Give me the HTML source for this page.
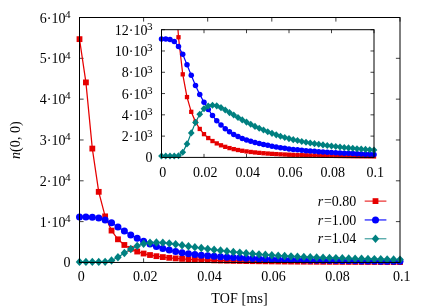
<!DOCTYPE html>
<html><head><meta charset="utf-8"><title>TOF plot</title>
<style>html,body{margin:0;padding:0;background:#fff;overflow:hidden}svg{display:block}svg{will-change:transform}</style></head>
<body>
<svg width="425" height="306" viewBox="0 0 425 306" font-family="'Liberation Serif', serif" font-size="14" fill="#000">
<rect width="425" height="306" fill="#fff"/>
<defs><clipPath id="ic"><rect x="156.50" y="29.70" width="222.50" height="132.70"/></clipPath></defs>
<g class="txt">
<text x="70.60" y="266.75" text-anchor="end">0</text>
<text x="70.60" y="226.72" text-anchor="end">1·10<tspan font-size="11.2" dy="-4.8" dx="-0.5">4</tspan></text>
<text x="70.60" y="185.90" text-anchor="end">2·10<tspan font-size="11.2" dy="-4.8" dx="-0.5">4</tspan></text>
<text x="70.60" y="145.07" text-anchor="end">3·10<tspan font-size="11.2" dy="-4.8" dx="-0.5">4</tspan></text>
<text x="70.60" y="104.25" text-anchor="end">4·10<tspan font-size="11.2" dy="-4.8" dx="-0.5">4</tspan></text>
<text x="70.60" y="63.42" text-anchor="end">5·10<tspan font-size="11.2" dy="-4.8" dx="-0.5">4</tspan></text>
<text x="70.60" y="22.60" text-anchor="end">6·10<tspan font-size="11.2" dy="-4.8" dx="-0.5">4</tspan></text>
<text x="81.20" y="281.30" text-anchor="middle">0</text>
<text x="145.30" y="281.30" text-anchor="middle">0.02</text>
<text x="209.40" y="281.30" text-anchor="middle">0.04</text>
<text x="273.50" y="281.30" text-anchor="middle">0.06</text>
<text x="337.60" y="281.30" text-anchor="middle">0.08</text>
<text x="401.70" y="281.30" text-anchor="middle">0.1</text>
<text x="211.3" y="302.5" textLength="56.4" lengthAdjust="spacing">TOF [ms]</text>
<text transform="translate(19.8,159) rotate(-90)" textLength="37.8" lengthAdjust="spacing"><tspan font-style="italic">n</tspan>(0, 0)</text>
<text x="356.3" y="205.70" text-anchor="end"><tspan font-style="italic">r</tspan><tspan dx="0.8">=</tspan>0.80</text>
<text x="356.3" y="224.55" text-anchor="end"><tspan font-style="italic">r</tspan><tspan dx="0.8">=</tspan>1.00</text>
<text x="356.3" y="243.40" text-anchor="end"><tspan font-style="italic">r</tspan><tspan dx="0.8">=</tspan>1.04</text>
<text x="152.60" y="162.20" text-anchor="end">0</text>
<text x="152.60" y="141.32" text-anchor="end">2·10<tspan font-size="11.2" dy="-4.8" dx="-0.5">3</tspan></text>
<text x="152.60" y="120.03" text-anchor="end">4·10<tspan font-size="11.2" dy="-4.8" dx="-0.5">3</tspan></text>
<text x="152.60" y="98.75" text-anchor="end">6·10<tspan font-size="11.2" dy="-4.8" dx="-0.5">3</tspan></text>
<text x="152.60" y="77.47" text-anchor="end">8·10<tspan font-size="11.2" dy="-4.8" dx="-0.5">3</tspan></text>
<text x="152.60" y="56.18" text-anchor="end">10·10<tspan font-size="11.2" dy="-4.8" dx="-0.5">3</tspan></text>
<text x="152.60" y="34.90" text-anchor="end">12·10<tspan font-size="11.2" dy="-4.8" dx="-0.5">3</tspan></text>
<text x="162.80" y="176.90" text-anchor="middle">0</text>
<text x="205.30" y="176.90" text-anchor="middle">0.02</text>
<text x="247.80" y="176.90" text-anchor="middle">0.04</text>
<text x="290.30" y="176.90" text-anchor="middle">0.06</text>
<text x="332.80" y="176.90" text-anchor="middle">0.08</text>
<text x="375.30" y="176.90" text-anchor="middle">0.1</text>
</g>
<path d="M79.50 262.45 h4.10 M400.00 262.45 h-4.10 M79.50 221.62 h4.10 M400.00 221.62 h-4.10 M79.50 180.80 h4.10 M400.00 180.80 h-4.10 M79.50 139.97 h4.10 M400.00 139.97 h-4.10 M79.50 99.15 h4.10 M400.00 99.15 h-4.10 M79.50 58.32 h4.10 M400.00 58.32 h-4.10 M79.50 17.50 h4.10 M400.00 17.50 h-4.10 M79.50 262.45 v-4.10 M79.50 17.50 v4.10 M143.60 262.45 v-4.10 M143.60 17.50 v4.10 M207.70 262.45 v-4.10 M207.70 17.50 v4.10 M271.80 262.45 v-4.10 M271.80 17.50 v4.10 M335.90 262.45 v-4.10 M335.90 17.50 v4.10 M400.00 262.45 v-4.10 M400.00 17.50 v4.10" stroke="#000" stroke-width="0.75" fill="none"/>
<g>
<polyline fill="none" stroke="#e60000" stroke-width="1.25" points="79.50,39.14 85.91,82.40 92.32,148.58 98.73,191.84 105.14,216.36 111.55,230.58 117.96,239.31 124.37,244.97 130.78,248.82 137.19,251.54 143.60,253.53 150.01,255.02 156.42,256.18 162.83,257.08 169.24,257.81 175.65,258.39 182.06,258.88 188.47,259.28 194.88,259.62 201.29,259.90 207.70,260.15 214.11,260.36 220.52,260.55 226.93,260.71 233.34,260.85 239.75,260.97 246.16,261.08 252.57,261.18 258.98,261.27 265.39,261.35 271.80,261.42 278.21,261.49 284.62,261.55 291.03,261.60 297.44,261.65 303.85,261.69 310.26,261.74 316.67,261.77 323.08,261.81 329.49,261.84 335.90,261.87 342.31,261.90 348.72,261.92 355.13,261.95 361.54,261.97 367.95,261.99 374.36,262.01 380.77,262.03 387.18,262.05 393.59,262.06 400.00,262.08"/>
<rect x="76.60" y="36.24" width="5.80" height="5.80" fill="#e60000"/>
<rect x="83.01" y="79.50" width="5.80" height="5.80" fill="#e60000"/>
<rect x="89.42" y="145.68" width="5.80" height="5.80" fill="#e60000"/>
<rect x="95.83" y="188.94" width="5.80" height="5.80" fill="#e60000"/>
<rect x="102.24" y="213.46" width="5.80" height="5.80" fill="#e60000"/>
<rect x="108.65" y="227.68" width="5.80" height="5.80" fill="#e60000"/>
<rect x="115.06" y="236.41" width="5.80" height="5.80" fill="#e60000"/>
<rect x="121.47" y="242.07" width="5.80" height="5.80" fill="#e60000"/>
<rect x="127.88" y="245.92" width="5.80" height="5.80" fill="#e60000"/>
<rect x="134.29" y="248.64" width="5.80" height="5.80" fill="#e60000"/>
<rect x="140.70" y="250.63" width="5.80" height="5.80" fill="#e60000"/>
<rect x="147.11" y="252.12" width="5.80" height="5.80" fill="#e60000"/>
<rect x="153.52" y="253.28" width="5.80" height="5.80" fill="#e60000"/>
<rect x="159.93" y="254.18" width="5.80" height="5.80" fill="#e60000"/>
<rect x="166.34" y="254.91" width="5.80" height="5.80" fill="#e60000"/>
<rect x="172.75" y="255.49" width="5.80" height="5.80" fill="#e60000"/>
<rect x="179.16" y="255.98" width="5.80" height="5.80" fill="#e60000"/>
<rect x="185.57" y="256.38" width="5.80" height="5.80" fill="#e60000"/>
<rect x="191.98" y="256.72" width="5.80" height="5.80" fill="#e60000"/>
<rect x="198.39" y="257.00" width="5.80" height="5.80" fill="#e60000"/>
<rect x="204.80" y="257.25" width="5.80" height="5.80" fill="#e60000"/>
<rect x="211.21" y="257.46" width="5.80" height="5.80" fill="#e60000"/>
<rect x="217.62" y="257.65" width="5.80" height="5.80" fill="#e60000"/>
<rect x="224.03" y="257.81" width="5.80" height="5.80" fill="#e60000"/>
<rect x="230.44" y="257.95" width="5.80" height="5.80" fill="#e60000"/>
<rect x="236.85" y="258.07" width="5.80" height="5.80" fill="#e60000"/>
<rect x="243.26" y="258.18" width="5.80" height="5.80" fill="#e60000"/>
<rect x="249.67" y="258.28" width="5.80" height="5.80" fill="#e60000"/>
<rect x="256.08" y="258.37" width="5.80" height="5.80" fill="#e60000"/>
<rect x="262.49" y="258.45" width="5.80" height="5.80" fill="#e60000"/>
<rect x="268.90" y="258.52" width="5.80" height="5.80" fill="#e60000"/>
<rect x="275.31" y="258.59" width="5.80" height="5.80" fill="#e60000"/>
<rect x="281.72" y="258.65" width="5.80" height="5.80" fill="#e60000"/>
<rect x="288.13" y="258.70" width="5.80" height="5.80" fill="#e60000"/>
<rect x="294.54" y="258.75" width="5.80" height="5.80" fill="#e60000"/>
<rect x="300.95" y="258.79" width="5.80" height="5.80" fill="#e60000"/>
<rect x="307.36" y="258.84" width="5.80" height="5.80" fill="#e60000"/>
<rect x="313.77" y="258.87" width="5.80" height="5.80" fill="#e60000"/>
<rect x="320.18" y="258.91" width="5.80" height="5.80" fill="#e60000"/>
<rect x="326.59" y="258.94" width="5.80" height="5.80" fill="#e60000"/>
<rect x="333.00" y="258.97" width="5.80" height="5.80" fill="#e60000"/>
<rect x="339.41" y="259.00" width="5.80" height="5.80" fill="#e60000"/>
<rect x="345.82" y="259.02" width="5.80" height="5.80" fill="#e60000"/>
<rect x="352.23" y="259.05" width="5.80" height="5.80" fill="#e60000"/>
<rect x="358.64" y="259.07" width="5.80" height="5.80" fill="#e60000"/>
<rect x="365.05" y="259.09" width="5.80" height="5.80" fill="#e60000"/>
<rect x="371.46" y="259.11" width="5.80" height="5.80" fill="#e60000"/>
<rect x="377.87" y="259.13" width="5.80" height="5.80" fill="#e60000"/>
<rect x="384.28" y="259.15" width="5.80" height="5.80" fill="#e60000"/>
<rect x="390.69" y="259.16" width="5.80" height="5.80" fill="#e60000"/>
<rect x="397.10" y="259.18" width="5.80" height="5.80" fill="#e60000"/>
</g>
<g>
<polyline fill="none" stroke="#0000ff" stroke-width="1.20" points="79.50,217.01 85.91,217.01 92.32,217.26 98.73,217.95 105.14,219.91 111.55,222.85 117.96,226.89 124.37,230.93 130.78,234.89 137.19,238.28 143.60,241.26 150.01,244.04 156.42,246.41 162.83,248.41 169.24,250.04 175.65,251.43 182.06,252.65 188.47,253.63 194.88,254.45 201.29,255.16 207.70,255.75 214.11,256.27 220.52,256.73 226.93,257.13 233.34,257.49 239.75,257.83 246.16,258.15 252.57,258.45 258.98,258.72 265.39,258.97 271.80,259.18 278.21,259.38 284.62,259.55 291.03,259.71 297.44,259.86 303.85,260.00 310.26,260.13 316.67,260.25 323.08,260.36 329.49,260.46 335.90,260.55 342.31,260.64 348.72,260.73 355.13,260.82 361.54,260.90 367.95,260.98 374.36,261.06 380.77,261.14 387.18,261.21 393.59,261.28 400.00,261.35"/>
<circle cx="79.50" cy="217.01" r="3.50" fill="#0000ff"/>
<circle cx="85.91" cy="217.01" r="3.50" fill="#0000ff"/>
<circle cx="92.32" cy="217.26" r="3.50" fill="#0000ff"/>
<circle cx="98.73" cy="217.95" r="3.50" fill="#0000ff"/>
<circle cx="105.14" cy="219.91" r="3.50" fill="#0000ff"/>
<circle cx="111.55" cy="222.85" r="3.50" fill="#0000ff"/>
<circle cx="117.96" cy="226.89" r="3.50" fill="#0000ff"/>
<circle cx="124.37" cy="230.93" r="3.50" fill="#0000ff"/>
<circle cx="130.78" cy="234.89" r="3.50" fill="#0000ff"/>
<circle cx="137.19" cy="238.28" r="3.50" fill="#0000ff"/>
<circle cx="143.60" cy="241.26" r="3.50" fill="#0000ff"/>
<circle cx="150.01" cy="244.04" r="3.50" fill="#0000ff"/>
<circle cx="156.42" cy="246.41" r="3.50" fill="#0000ff"/>
<circle cx="162.83" cy="248.41" r="3.50" fill="#0000ff"/>
<circle cx="169.24" cy="250.04" r="3.50" fill="#0000ff"/>
<circle cx="175.65" cy="251.43" r="3.50" fill="#0000ff"/>
<circle cx="182.06" cy="252.65" r="3.50" fill="#0000ff"/>
<circle cx="188.47" cy="253.63" r="3.50" fill="#0000ff"/>
<circle cx="194.88" cy="254.45" r="3.50" fill="#0000ff"/>
<circle cx="201.29" cy="255.16" r="3.50" fill="#0000ff"/>
<circle cx="207.70" cy="255.75" r="3.50" fill="#0000ff"/>
<circle cx="214.11" cy="256.27" r="3.50" fill="#0000ff"/>
<circle cx="220.52" cy="256.73" r="3.50" fill="#0000ff"/>
<circle cx="226.93" cy="257.13" r="3.50" fill="#0000ff"/>
<circle cx="233.34" cy="257.49" r="3.50" fill="#0000ff"/>
<circle cx="239.75" cy="257.83" r="3.50" fill="#0000ff"/>
<circle cx="246.16" cy="258.15" r="3.50" fill="#0000ff"/>
<circle cx="252.57" cy="258.45" r="3.50" fill="#0000ff"/>
<circle cx="258.98" cy="258.72" r="3.50" fill="#0000ff"/>
<circle cx="265.39" cy="258.97" r="3.50" fill="#0000ff"/>
<circle cx="271.80" cy="259.18" r="3.50" fill="#0000ff"/>
<circle cx="278.21" cy="259.38" r="3.50" fill="#0000ff"/>
<circle cx="284.62" cy="259.55" r="3.50" fill="#0000ff"/>
<circle cx="291.03" cy="259.71" r="3.50" fill="#0000ff"/>
<circle cx="297.44" cy="259.86" r="3.50" fill="#0000ff"/>
<circle cx="303.85" cy="260.00" r="3.50" fill="#0000ff"/>
<circle cx="310.26" cy="260.13" r="3.50" fill="#0000ff"/>
<circle cx="316.67" cy="260.25" r="3.50" fill="#0000ff"/>
<circle cx="323.08" cy="260.36" r="3.50" fill="#0000ff"/>
<circle cx="329.49" cy="260.46" r="3.50" fill="#0000ff"/>
<circle cx="335.90" cy="260.55" r="3.50" fill="#0000ff"/>
<circle cx="342.31" cy="260.64" r="3.50" fill="#0000ff"/>
<circle cx="348.72" cy="260.73" r="3.50" fill="#0000ff"/>
<circle cx="355.13" cy="260.82" r="3.50" fill="#0000ff"/>
<circle cx="361.54" cy="260.90" r="3.50" fill="#0000ff"/>
<circle cx="367.95" cy="260.98" r="3.50" fill="#0000ff"/>
<circle cx="374.36" cy="261.06" r="3.50" fill="#0000ff"/>
<circle cx="380.77" cy="261.14" r="3.50" fill="#0000ff"/>
<circle cx="387.18" cy="261.21" r="3.50" fill="#0000ff"/>
<circle cx="393.59" cy="261.28" r="3.50" fill="#0000ff"/>
<circle cx="400.00" cy="261.35" r="3.50" fill="#0000ff"/>
</g>
<g>
<polyline fill="none" stroke="#008080" stroke-width="1.20" points="79.50,261.92 85.91,261.92 92.32,261.92 98.73,261.92 105.14,261.84 111.55,260.49 117.96,257.27 124.37,253.06 130.78,249.02 137.19,245.92 143.60,243.75 150.01,242.77 156.42,242.45 162.83,242.67 169.24,243.36 175.65,244.28 182.06,245.26 188.47,246.20 194.88,247.16 201.29,248.06 207.70,248.92 214.11,249.73 220.52,250.55 226.93,251.26 233.34,251.96 239.75,252.61 246.16,253.22 252.57,253.80 258.98,254.33 265.39,254.81 271.80,255.24 278.21,255.64 284.62,255.99 291.03,256.33 297.44,256.63 303.85,256.92 310.26,257.18 316.67,257.43 323.08,257.66 329.49,257.88 335.90,258.09 342.31,258.29 348.72,258.47 355.13,258.65 361.54,258.81 367.95,258.97 374.36,259.11 380.77,259.25 387.18,259.38 393.59,259.50 400.00,259.61"/>
<path d="M75.75 261.92 L79.50 257.72 L83.25 261.92 L79.50 266.12 Z" fill="#008080"/>
<path d="M82.16 261.92 L85.91 257.72 L89.66 261.92 L85.91 266.12 Z" fill="#008080"/>
<path d="M88.57 261.92 L92.32 257.72 L96.07 261.92 L92.32 266.12 Z" fill="#008080"/>
<path d="M94.98 261.92 L98.73 257.72 L102.48 261.92 L98.73 266.12 Z" fill="#008080"/>
<path d="M101.39 261.84 L105.14 257.64 L108.89 261.84 L105.14 266.04 Z" fill="#008080"/>
<path d="M107.80 260.49 L111.55 256.29 L115.30 260.49 L111.55 264.69 Z" fill="#008080"/>
<path d="M114.21 257.27 L117.96 253.07 L121.71 257.27 L117.96 261.47 Z" fill="#008080"/>
<path d="M120.62 253.06 L124.37 248.86 L128.12 253.06 L124.37 257.26 Z" fill="#008080"/>
<path d="M127.03 249.02 L130.78 244.82 L134.53 249.02 L130.78 253.22 Z" fill="#008080"/>
<path d="M133.44 245.92 L137.19 241.72 L140.94 245.92 L137.19 250.12 Z" fill="#008080"/>
<path d="M139.85 243.75 L143.60 239.55 L147.35 243.75 L143.60 247.95 Z" fill="#008080"/>
<path d="M146.26 242.77 L150.01 238.57 L153.76 242.77 L150.01 246.97 Z" fill="#008080"/>
<path d="M152.67 242.45 L156.42 238.25 L160.17 242.45 L156.42 246.65 Z" fill="#008080"/>
<path d="M159.08 242.67 L162.83 238.47 L166.58 242.67 L162.83 246.87 Z" fill="#008080"/>
<path d="M165.49 243.36 L169.24 239.16 L172.99 243.36 L169.24 247.56 Z" fill="#008080"/>
<path d="M171.90 244.28 L175.65 240.08 L179.40 244.28 L175.65 248.48 Z" fill="#008080"/>
<path d="M178.31 245.26 L182.06 241.06 L185.81 245.26 L182.06 249.46 Z" fill="#008080"/>
<path d="M184.72 246.20 L188.47 242.00 L192.22 246.20 L188.47 250.40 Z" fill="#008080"/>
<path d="M191.13 247.16 L194.88 242.96 L198.63 247.16 L194.88 251.36 Z" fill="#008080"/>
<path d="M197.54 248.06 L201.29 243.86 L205.04 248.06 L201.29 252.26 Z" fill="#008080"/>
<path d="M203.95 248.92 L207.70 244.72 L211.45 248.92 L207.70 253.12 Z" fill="#008080"/>
<path d="M210.36 249.73 L214.11 245.53 L217.86 249.73 L214.11 253.93 Z" fill="#008080"/>
<path d="M216.77 250.55 L220.52 246.35 L224.27 250.55 L220.52 254.75 Z" fill="#008080"/>
<path d="M223.18 251.26 L226.93 247.06 L230.68 251.26 L226.93 255.46 Z" fill="#008080"/>
<path d="M229.59 251.96 L233.34 247.76 L237.09 251.96 L233.34 256.16 Z" fill="#008080"/>
<path d="M236.00 252.61 L239.75 248.41 L243.50 252.61 L239.75 256.81 Z" fill="#008080"/>
<path d="M242.41 253.22 L246.16 249.02 L249.91 253.22 L246.16 257.42 Z" fill="#008080"/>
<path d="M248.82 253.80 L252.57 249.60 L256.32 253.80 L252.57 258.00 Z" fill="#008080"/>
<path d="M255.23 254.33 L258.98 250.13 L262.73 254.33 L258.98 258.53 Z" fill="#008080"/>
<path d="M261.64 254.81 L265.39 250.61 L269.14 254.81 L265.39 259.01 Z" fill="#008080"/>
<path d="M268.05 255.24 L271.80 251.04 L275.55 255.24 L271.80 259.44 Z" fill="#008080"/>
<path d="M274.46 255.64 L278.21 251.44 L281.96 255.64 L278.21 259.84 Z" fill="#008080"/>
<path d="M280.87 255.99 L284.62 251.79 L288.37 255.99 L284.62 260.19 Z" fill="#008080"/>
<path d="M287.28 256.33 L291.03 252.13 L294.78 256.33 L291.03 260.53 Z" fill="#008080"/>
<path d="M293.69 256.63 L297.44 252.43 L301.19 256.63 L297.44 260.83 Z" fill="#008080"/>
<path d="M300.10 256.92 L303.85 252.72 L307.60 256.92 L303.85 261.12 Z" fill="#008080"/>
<path d="M306.51 257.18 L310.26 252.98 L314.01 257.18 L310.26 261.38 Z" fill="#008080"/>
<path d="M312.92 257.43 L316.67 253.23 L320.42 257.43 L316.67 261.63 Z" fill="#008080"/>
<path d="M319.33 257.66 L323.08 253.46 L326.83 257.66 L323.08 261.86 Z" fill="#008080"/>
<path d="M325.74 257.88 L329.49 253.68 L333.24 257.88 L329.49 262.08 Z" fill="#008080"/>
<path d="M332.15 258.09 L335.90 253.89 L339.65 258.09 L335.90 262.29 Z" fill="#008080"/>
<path d="M338.56 258.29 L342.31 254.09 L346.06 258.29 L342.31 262.49 Z" fill="#008080"/>
<path d="M344.97 258.47 L348.72 254.27 L352.47 258.47 L348.72 262.67 Z" fill="#008080"/>
<path d="M351.38 258.65 L355.13 254.45 L358.88 258.65 L355.13 262.85 Z" fill="#008080"/>
<path d="M357.79 258.81 L361.54 254.61 L365.29 258.81 L361.54 263.01 Z" fill="#008080"/>
<path d="M364.20 258.97 L367.95 254.77 L371.70 258.97 L367.95 263.17 Z" fill="#008080"/>
<path d="M370.61 259.11 L374.36 254.91 L378.11 259.11 L374.36 263.31 Z" fill="#008080"/>
<path d="M377.02 259.25 L380.77 255.05 L384.52 259.25 L380.77 263.45 Z" fill="#008080"/>
<path d="M383.43 259.38 L387.18 255.18 L390.93 259.38 L387.18 263.58 Z" fill="#008080"/>
<path d="M389.84 259.50 L393.59 255.30 L397.34 259.50 L393.59 263.70 Z" fill="#008080"/>
<path d="M396.25 259.61 L400.00 255.41 L403.75 259.61 L400.00 263.81 Z" fill="#008080"/>
</g>
<path d="M364.7 201.10 H386.4" stroke="#e60000" stroke-width="1.00" fill="none"/>
<rect x="372.60" y="198.20" width="5.80" height="5.80" fill="#e60000"/>
<path d="M364.7 219.95 H386.4" stroke="#0000ff" stroke-width="1.10" fill="none"/>
<circle cx="375.50" cy="219.95" r="3.50" fill="#0000ff"/>
<path d="M364.7 238.80 H386.4" stroke="#008080" stroke-width="0.90" fill="none"/>
<path d="M371.75 238.80 L375.50 234.60 L379.25 238.80 L375.50 243.00 Z" fill="#008080"/>
<rect x="79.50" y="17.50" width="320.50" height="244.95" fill="none" stroke="#000" stroke-width="1.00"/>
<path d="M161.50 157.40 h3.50 M374.00 157.40 h-3.50 M161.50 136.12 h3.50 M374.00 136.12 h-3.50 M161.50 114.83 h3.50 M374.00 114.83 h-3.50 M161.50 93.55 h3.50 M374.00 93.55 h-3.50 M161.50 72.27 h3.50 M374.00 72.27 h-3.50 M161.50 50.98 h3.50 M374.00 50.98 h-3.50 M161.50 29.70 h3.50 M374.00 29.70 h-3.50 M161.50 157.40 v-3.50 M161.50 29.70 v3.50 M204.00 157.40 v-3.50 M204.00 29.70 v3.50 M246.50 157.40 v-3.50 M246.50 29.70 v3.50 M289.00 157.40 v-3.50 M289.00 29.70 v3.50 M331.50 157.40 v-3.50 M331.50 29.70 v3.50 M374.00 157.40 v-3.50 M374.00 29.70 v3.50" stroke="#000" stroke-width="0.75" fill="none"/>
<g clip-path="url(#ic)">
<polyline fill="none" stroke="#e60000" stroke-width="1.25" points="161.50,-424.70 165.75,-311.92 170.00,-139.41 174.25,-26.66 178.50,37.25 182.75,74.33 187.00,97.08 191.25,111.83 195.50,121.86 199.75,128.95 204.00,134.14 208.25,138.05 212.50,141.05 216.75,143.41 221.00,145.30 225.25,146.83 229.50,148.09 233.75,149.14 238.00,150.02 242.25,150.77 246.50,151.41 250.75,151.96 255.00,152.44 259.25,152.86 263.50,153.22 267.75,153.55 272.00,153.84 276.25,154.10 280.50,154.33 284.75,154.53 289.00,154.72 293.25,154.89 297.50,155.04 301.75,155.18 306.00,155.31 310.25,155.43 314.50,155.54 318.75,155.64 323.00,155.73 327.25,155.81 331.50,155.89 335.75,155.96 340.00,156.03 344.25,156.09 348.50,156.15 352.75,156.21 357.00,156.26 361.25,156.31 365.50,156.35 369.75,156.39 374.00,156.43"/>
<rect x="159.35" y="-426.85" width="4.30" height="4.30" fill="#e60000"/>
<rect x="163.60" y="-314.07" width="4.30" height="4.30" fill="#e60000"/>
<rect x="167.85" y="-141.56" width="4.30" height="4.30" fill="#e60000"/>
<rect x="172.10" y="-28.81" width="4.30" height="4.30" fill="#e60000"/>
<rect x="176.35" y="35.10" width="4.30" height="4.30" fill="#e60000"/>
<rect x="180.60" y="72.18" width="4.30" height="4.30" fill="#e60000"/>
<rect x="184.85" y="94.93" width="4.30" height="4.30" fill="#e60000"/>
<rect x="189.10" y="109.68" width="4.30" height="4.30" fill="#e60000"/>
<rect x="193.35" y="119.71" width="4.30" height="4.30" fill="#e60000"/>
<rect x="197.60" y="126.80" width="4.30" height="4.30" fill="#e60000"/>
<rect x="201.85" y="131.99" width="4.30" height="4.30" fill="#e60000"/>
<rect x="206.10" y="135.90" width="4.30" height="4.30" fill="#e60000"/>
<rect x="210.35" y="138.90" width="4.30" height="4.30" fill="#e60000"/>
<rect x="214.60" y="141.26" width="4.30" height="4.30" fill="#e60000"/>
<rect x="218.85" y="143.15" width="4.30" height="4.30" fill="#e60000"/>
<rect x="223.10" y="144.68" width="4.30" height="4.30" fill="#e60000"/>
<rect x="227.35" y="145.94" width="4.30" height="4.30" fill="#e60000"/>
<rect x="231.60" y="146.99" width="4.30" height="4.30" fill="#e60000"/>
<rect x="235.85" y="147.87" width="4.30" height="4.30" fill="#e60000"/>
<rect x="240.10" y="148.62" width="4.30" height="4.30" fill="#e60000"/>
<rect x="244.35" y="149.26" width="4.30" height="4.30" fill="#e60000"/>
<rect x="248.60" y="149.81" width="4.30" height="4.30" fill="#e60000"/>
<rect x="252.85" y="150.29" width="4.30" height="4.30" fill="#e60000"/>
<rect x="257.10" y="150.71" width="4.30" height="4.30" fill="#e60000"/>
<rect x="261.35" y="151.07" width="4.30" height="4.30" fill="#e60000"/>
<rect x="265.60" y="151.40" width="4.30" height="4.30" fill="#e60000"/>
<rect x="269.85" y="151.69" width="4.30" height="4.30" fill="#e60000"/>
<rect x="274.10" y="151.95" width="4.30" height="4.30" fill="#e60000"/>
<rect x="278.35" y="152.18" width="4.30" height="4.30" fill="#e60000"/>
<rect x="282.60" y="152.38" width="4.30" height="4.30" fill="#e60000"/>
<rect x="286.85" y="152.57" width="4.30" height="4.30" fill="#e60000"/>
<rect x="291.10" y="152.74" width="4.30" height="4.30" fill="#e60000"/>
<rect x="295.35" y="152.89" width="4.30" height="4.30" fill="#e60000"/>
<rect x="299.60" y="153.03" width="4.30" height="4.30" fill="#e60000"/>
<rect x="303.85" y="153.16" width="4.30" height="4.30" fill="#e60000"/>
<rect x="308.10" y="153.28" width="4.30" height="4.30" fill="#e60000"/>
<rect x="312.35" y="153.39" width="4.30" height="4.30" fill="#e60000"/>
<rect x="316.60" y="153.49" width="4.30" height="4.30" fill="#e60000"/>
<rect x="320.85" y="153.58" width="4.30" height="4.30" fill="#e60000"/>
<rect x="325.10" y="153.66" width="4.30" height="4.30" fill="#e60000"/>
<rect x="329.35" y="153.74" width="4.30" height="4.30" fill="#e60000"/>
<rect x="333.60" y="153.81" width="4.30" height="4.30" fill="#e60000"/>
<rect x="337.85" y="153.88" width="4.30" height="4.30" fill="#e60000"/>
<rect x="342.10" y="153.94" width="4.30" height="4.30" fill="#e60000"/>
<rect x="346.35" y="154.00" width="4.30" height="4.30" fill="#e60000"/>
<rect x="350.60" y="154.06" width="4.30" height="4.30" fill="#e60000"/>
<rect x="354.85" y="154.11" width="4.30" height="4.30" fill="#e60000"/>
<rect x="359.10" y="154.16" width="4.30" height="4.30" fill="#e60000"/>
<rect x="363.35" y="154.20" width="4.30" height="4.30" fill="#e60000"/>
<rect x="367.60" y="154.24" width="4.30" height="4.30" fill="#e60000"/>
<rect x="371.85" y="154.28" width="4.30" height="4.30" fill="#e60000"/>
</g>
<g clip-path="url(#ic)">
<polyline fill="none" stroke="#0000ff" stroke-width="1.20" points="161.50,38.96 165.75,38.96 170.00,39.60 174.25,41.41 178.50,46.51 182.75,54.18 187.00,64.71 191.25,75.25 195.50,85.57 199.75,94.40 204.00,102.17 208.25,109.41 212.50,115.58 216.75,120.79 221.00,125.05 225.25,128.67 229.50,131.86 233.75,134.41 238.00,136.54 242.25,138.40 246.50,139.95 250.75,141.28 255.00,142.50 259.25,143.54 263.50,144.47 267.75,145.36 272.00,146.20 276.25,146.97 280.50,147.68 284.75,148.32 289.00,148.89 293.25,149.39 297.50,149.85 301.75,150.27 306.00,150.65 310.25,151.01 314.50,151.34 318.75,151.65 323.00,151.94 327.25,152.21 331.50,152.46 335.75,152.69 340.00,152.92 344.25,153.14 348.50,153.36 352.75,153.57 357.00,153.78 361.25,153.97 365.50,154.17 369.75,154.35 374.00,154.53"/>
<circle cx="161.50" cy="38.96" r="2.75" fill="#0000ff"/>
<circle cx="165.75" cy="38.96" r="2.75" fill="#0000ff"/>
<circle cx="170.00" cy="39.60" r="2.75" fill="#0000ff"/>
<circle cx="174.25" cy="41.41" r="2.75" fill="#0000ff"/>
<circle cx="178.50" cy="46.51" r="2.75" fill="#0000ff"/>
<circle cx="182.75" cy="54.18" r="2.75" fill="#0000ff"/>
<circle cx="187.00" cy="64.71" r="2.75" fill="#0000ff"/>
<circle cx="191.25" cy="75.25" r="2.75" fill="#0000ff"/>
<circle cx="195.50" cy="85.57" r="2.75" fill="#0000ff"/>
<circle cx="199.75" cy="94.40" r="2.75" fill="#0000ff"/>
<circle cx="204.00" cy="102.17" r="2.75" fill="#0000ff"/>
<circle cx="208.25" cy="109.41" r="2.75" fill="#0000ff"/>
<circle cx="212.50" cy="115.58" r="2.75" fill="#0000ff"/>
<circle cx="216.75" cy="120.79" r="2.75" fill="#0000ff"/>
<circle cx="221.00" cy="125.05" r="2.75" fill="#0000ff"/>
<circle cx="225.25" cy="128.67" r="2.75" fill="#0000ff"/>
<circle cx="229.50" cy="131.86" r="2.75" fill="#0000ff"/>
<circle cx="233.75" cy="134.41" r="2.75" fill="#0000ff"/>
<circle cx="238.00" cy="136.54" r="2.75" fill="#0000ff"/>
<circle cx="242.25" cy="138.40" r="2.75" fill="#0000ff"/>
<circle cx="246.50" cy="139.95" r="2.75" fill="#0000ff"/>
<circle cx="250.75" cy="141.28" r="2.75" fill="#0000ff"/>
<circle cx="255.00" cy="142.50" r="2.75" fill="#0000ff"/>
<circle cx="259.25" cy="143.54" r="2.75" fill="#0000ff"/>
<circle cx="263.50" cy="144.47" r="2.75" fill="#0000ff"/>
<circle cx="267.75" cy="145.36" r="2.75" fill="#0000ff"/>
<circle cx="272.00" cy="146.20" r="2.75" fill="#0000ff"/>
<circle cx="276.25" cy="146.97" r="2.75" fill="#0000ff"/>
<circle cx="280.50" cy="147.68" r="2.75" fill="#0000ff"/>
<circle cx="284.75" cy="148.32" r="2.75" fill="#0000ff"/>
<circle cx="289.00" cy="148.89" r="2.75" fill="#0000ff"/>
<circle cx="293.25" cy="149.39" r="2.75" fill="#0000ff"/>
<circle cx="297.50" cy="149.85" r="2.75" fill="#0000ff"/>
<circle cx="301.75" cy="150.27" r="2.75" fill="#0000ff"/>
<circle cx="306.00" cy="150.65" r="2.75" fill="#0000ff"/>
<circle cx="310.25" cy="151.01" r="2.75" fill="#0000ff"/>
<circle cx="314.50" cy="151.34" r="2.75" fill="#0000ff"/>
<circle cx="318.75" cy="151.65" r="2.75" fill="#0000ff"/>
<circle cx="323.00" cy="151.94" r="2.75" fill="#0000ff"/>
<circle cx="327.25" cy="152.21" r="2.75" fill="#0000ff"/>
<circle cx="331.50" cy="152.46" r="2.75" fill="#0000ff"/>
<circle cx="335.75" cy="152.69" r="2.75" fill="#0000ff"/>
<circle cx="340.00" cy="152.92" r="2.75" fill="#0000ff"/>
<circle cx="344.25" cy="153.14" r="2.75" fill="#0000ff"/>
<circle cx="348.50" cy="153.36" r="2.75" fill="#0000ff"/>
<circle cx="352.75" cy="153.57" r="2.75" fill="#0000ff"/>
<circle cx="357.00" cy="153.78" r="2.75" fill="#0000ff"/>
<circle cx="361.25" cy="153.97" r="2.75" fill="#0000ff"/>
<circle cx="365.50" cy="154.17" r="2.75" fill="#0000ff"/>
<circle cx="369.75" cy="154.35" r="2.75" fill="#0000ff"/>
<circle cx="374.00" cy="154.53" r="2.75" fill="#0000ff"/>
</g>
<g clip-path="url(#ic)">
<polyline fill="none" stroke="#008080" stroke-width="1.20" points="161.50,156.02 165.75,156.02 170.00,156.02 174.25,156.02 178.50,155.80 182.75,152.29 187.00,143.89 191.25,132.92 195.50,122.39 199.75,114.30 204.00,108.66 208.25,106.11 212.50,105.26 216.75,105.84 221.00,107.65 225.25,110.04 229.50,112.60 233.75,115.05 238.00,117.55 242.25,119.89 246.50,122.12 250.75,124.25 255.00,126.38 259.25,128.24 263.50,130.05 267.75,131.75 272.00,133.35 276.25,134.85 280.50,136.23 284.75,137.49 289.00,138.62 293.25,139.64 297.50,140.57 301.75,141.44 306.00,142.23 310.25,142.97 314.50,143.66 318.75,144.31 323.00,144.92 327.25,145.49 331.50,146.04 335.75,146.55 340.00,147.03 344.25,147.48 348.50,147.91 352.75,148.32 357.00,148.70 361.25,149.05 365.50,149.39 369.75,149.71 374.00,150.00"/>
<path d="M158.15 156.02 L161.50 152.47 L164.85 156.02 L161.50 159.57 Z" fill="#008080"/>
<path d="M162.40 156.02 L165.75 152.47 L169.10 156.02 L165.75 159.57 Z" fill="#008080"/>
<path d="M166.65 156.02 L170.00 152.47 L173.35 156.02 L170.00 159.57 Z" fill="#008080"/>
<path d="M170.90 156.02 L174.25 152.47 L177.60 156.02 L174.25 159.57 Z" fill="#008080"/>
<path d="M175.15 155.80 L178.50 152.25 L181.85 155.80 L178.50 159.35 Z" fill="#008080"/>
<path d="M179.40 152.29 L182.75 148.74 L186.10 152.29 L182.75 155.84 Z" fill="#008080"/>
<path d="M183.65 143.89 L187.00 140.33 L190.35 143.89 L187.00 147.44 Z" fill="#008080"/>
<path d="M187.90 132.92 L191.25 129.37 L194.60 132.92 L191.25 136.48 Z" fill="#008080"/>
<path d="M192.15 122.39 L195.50 118.84 L198.85 122.39 L195.50 125.94 Z" fill="#008080"/>
<path d="M196.40 114.30 L199.75 110.75 L203.10 114.30 L199.75 117.85 Z" fill="#008080"/>
<path d="M200.65 108.66 L204.00 105.11 L207.35 108.66 L204.00 112.21 Z" fill="#008080"/>
<path d="M204.90 106.11 L208.25 102.56 L211.60 106.11 L208.25 109.66 Z" fill="#008080"/>
<path d="M209.15 105.26 L212.50 101.70 L215.85 105.26 L212.50 108.81 Z" fill="#008080"/>
<path d="M213.40 105.84 L216.75 102.29 L220.10 105.84 L216.75 109.39 Z" fill="#008080"/>
<path d="M217.65 107.65 L221.00 104.10 L224.35 107.65 L221.00 111.20 Z" fill="#008080"/>
<path d="M221.90 110.04 L225.25 106.49 L228.60 110.04 L225.25 113.60 Z" fill="#008080"/>
<path d="M226.15 112.60 L229.50 109.05 L232.85 112.60 L229.50 116.15 Z" fill="#008080"/>
<path d="M230.40 115.05 L233.75 111.50 L237.10 115.05 L233.75 118.60 Z" fill="#008080"/>
<path d="M234.65 117.55 L238.00 114.00 L241.35 117.55 L238.00 121.10 Z" fill="#008080"/>
<path d="M238.90 119.89 L242.25 116.34 L245.60 119.89 L242.25 123.44 Z" fill="#008080"/>
<path d="M243.15 122.12 L246.50 118.57 L249.85 122.12 L246.50 125.67 Z" fill="#008080"/>
<path d="M247.40 124.25 L250.75 120.70 L254.10 124.25 L250.75 127.80 Z" fill="#008080"/>
<path d="M251.65 126.38 L255.00 122.83 L258.35 126.38 L255.00 129.93 Z" fill="#008080"/>
<path d="M255.90 128.24 L259.25 124.69 L262.60 128.24 L259.25 131.79 Z" fill="#008080"/>
<path d="M260.15 130.05 L263.50 126.50 L266.85 130.05 L263.50 133.60 Z" fill="#008080"/>
<path d="M264.40 131.75 L267.75 128.20 L271.10 131.75 L267.75 135.30 Z" fill="#008080"/>
<path d="M268.65 133.35 L272.00 129.80 L275.35 133.35 L272.00 136.90 Z" fill="#008080"/>
<path d="M272.90 134.85 L276.25 131.30 L279.60 134.85 L276.25 138.40 Z" fill="#008080"/>
<path d="M277.15 136.23 L280.50 132.68 L283.85 136.23 L280.50 139.78 Z" fill="#008080"/>
<path d="M281.40 137.49 L284.75 133.94 L288.10 137.49 L284.75 141.04 Z" fill="#008080"/>
<path d="M285.65 138.62 L289.00 135.07 L292.35 138.62 L289.00 142.17 Z" fill="#008080"/>
<path d="M289.90 139.64 L293.25 136.09 L296.60 139.64 L293.25 143.19 Z" fill="#008080"/>
<path d="M294.15 140.57 L297.50 137.02 L300.85 140.57 L297.50 144.12 Z" fill="#008080"/>
<path d="M298.40 141.44 L301.75 137.88 L305.10 141.44 L301.75 144.99 Z" fill="#008080"/>
<path d="M302.65 142.23 L306.00 138.68 L309.35 142.23 L306.00 145.78 Z" fill="#008080"/>
<path d="M306.90 142.97 L310.25 139.42 L313.60 142.97 L310.25 146.52 Z" fill="#008080"/>
<path d="M311.15 143.66 L314.50 140.11 L317.85 143.66 L314.50 147.22 Z" fill="#008080"/>
<path d="M315.40 144.31 L318.75 140.76 L322.10 144.31 L318.75 147.86 Z" fill="#008080"/>
<path d="M319.65 144.92 L323.00 141.37 L326.35 144.92 L323.00 148.47 Z" fill="#008080"/>
<path d="M323.90 145.49 L327.25 141.94 L330.60 145.49 L327.25 149.04 Z" fill="#008080"/>
<path d="M328.15 146.04 L331.50 142.49 L334.85 146.04 L331.50 149.59 Z" fill="#008080"/>
<path d="M332.40 146.55 L335.75 143.00 L339.10 146.55 L335.75 150.10 Z" fill="#008080"/>
<path d="M336.65 147.03 L340.00 143.48 L343.35 147.03 L340.00 150.58 Z" fill="#008080"/>
<path d="M340.90 147.48 L344.25 143.93 L347.60 147.48 L344.25 151.04 Z" fill="#008080"/>
<path d="M345.15 147.91 L348.50 144.36 L351.85 147.91 L348.50 151.46 Z" fill="#008080"/>
<path d="M349.40 148.32 L352.75 144.77 L356.10 148.32 L352.75 151.87 Z" fill="#008080"/>
<path d="M353.65 148.70 L357.00 145.15 L360.35 148.70 L357.00 152.25 Z" fill="#008080"/>
<path d="M357.90 149.05 L361.25 145.50 L364.60 149.05 L361.25 152.61 Z" fill="#008080"/>
<path d="M362.15 149.39 L365.50 145.84 L368.85 149.39 L365.50 152.94 Z" fill="#008080"/>
<path d="M366.40 149.71 L369.75 146.16 L373.10 149.71 L369.75 153.26 Z" fill="#008080"/>
<path d="M370.65 150.00 L374.00 146.45 L377.35 150.00 L374.00 153.56 Z" fill="#008080"/>
</g>
<rect x="161.50" y="29.70" width="212.50" height="127.70" fill="none" stroke="#000" stroke-width="1.00"/>
</svg>
</body></html>
